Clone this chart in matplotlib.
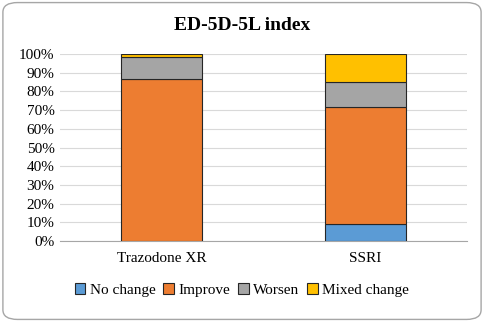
import matplotlib.pyplot as plt
from matplotlib.patches import FancyBboxPatch
from matplotlib.ticker import PercentFormatter

plt.rcParams['font.family'] = ['Liberation Serif', 'DejaVu Serif']

groups = ['Trazodone XR', 'SSRI']
labels = ['No change', 'Improve', 'Worsen', 'Mixed change']
colors = ['#5B9BD5', '#ED7D31', '#A5A5A5', '#FFC000']
no_change = [0.0, 9.0]
improve = [86.5, 62.5]
worsen = [12.0, 13.5]
mixed = [1.5, 15.0]

fig = plt.figure(figsize=(4.84, 3.22), dpi=100)
fig.patches.append(FancyBboxPatch((0.006, 0.008), 0.988, 0.984,
                                  boxstyle='round,pad=0,rounding_size=0.03',
                                  transform=fig.transFigure, fc='white',
                                  ec='#A6A6A6', lw=1.0, zorder=-5))
ax = fig.add_axes([0.124, 0.2516, 0.841, 0.5804])
ax.patch.set_alpha(0)

x = [0, 1]
bottom = [0.0, 0.0]
for vals, lab, col in zip([no_change, improve, worsen, mixed], labels, colors):
    ax.bar(x, vals, 0.4, bottom=bottom, color=col, edgecolor='#262626',
           linewidth=0.8, label=lab, zorder=3)
    bottom = [b + v for b, v in zip(bottom, vals)]

ax.set_xlim(-0.5, 1.5)
ax.set_ylim(0, 100)
ax.set_yticks(range(0, 101, 10))
ax.yaxis.set_major_formatter(PercentFormatter(decimals=0))
ax.set_xticks(x)
ax.set_xticklabels(groups)
ax.grid(axis='y', color='#D9D9D9', lw=0.8, zorder=0)
for s in ['top', 'right', 'left']:
    ax.spines[s].set_visible(False)
ax.spines['bottom'].set_color('#A6A6A6')
ax.tick_params(length=0, labelsize=11, pad=4)
ax.tick_params(axis='x', pad=8)

fig.text(0.5, 0.92, 'ED-5D-5L index', ha='center', va='center',
         fontsize=14, fontweight='bold')
fig.legend(loc='center', bbox_to_anchor=(0.5, 0.1), ncol=4, frameon=False,
           fontsize=11, handlelength=0.7, handleheight=0.7,
           handletextpad=0.3, columnspacing=0.5)

fig.savefig('out.png', dpi=100)
